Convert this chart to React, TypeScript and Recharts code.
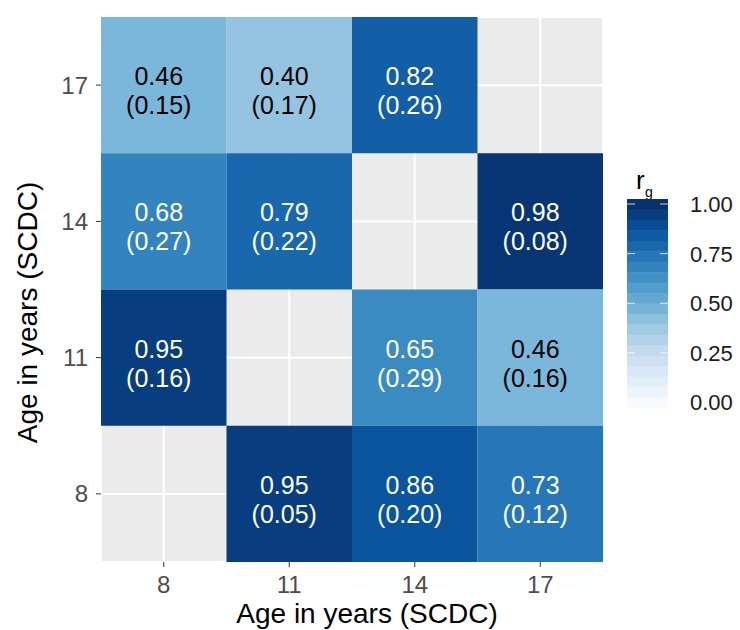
import { ScatterChart, Scatter, XAxis, YAxis, CartesianGrid } from "recharts";

// ages on both axes
const ages = [8, 11, 14, 17];

// one entry per filled tile (diagonal left empty)
const cellX = [8, 11, 14, 8, 11, 17, 8, 14, 17, 11, 14, 17];
const cellY = [17, 17, 17, 14, 14, 14, 11, 11, 11, 8, 8, 8];
const rg = [0.46, 0.4, 0.82, 0.68, 0.79, 0.98, 0.95, 0.65, 0.46, 0.95, 0.86, 0.73];
const se = [0.15, 0.17, 0.26, 0.27, 0.22, 0.08, 0.16, 0.29, 0.16, 0.05, 0.2, 0.12];

const legendTicks = [0, 0.25, 0.5, 0.75, 1];

const FONT = "Liberation Sans, Arial, sans-serif";
const W = 740;
const H = 630;
const M = { top: 17, right: 137, left: 0, bottom: 0 };
const Y_W = 101;
const X_H = 68;
const PLOT_W = W - M.left - M.right - Y_W;
const PLOT_H = H - M.top - M.bottom - X_H;
const TILE_W = PLOT_W / 4;
const TILE_H = PLOT_H / 4;

// brewer Blues
const blues = ["#f7fbff", "#deebf7", "#c6dbef", "#9ecae1", "#6baed6", "#4292c6", "#2171b5", "#08519c", "#08306b"];

function hex(c: string) {
  return [1, 3, 5].map((i) => parseInt(c.slice(i, i + 2), 16));
}

function blueFor(v: number) {
  const t = Math.max(0, Math.min(1, v)) * (blues.length - 1);
  const i = Math.min(Math.floor(t), blues.length - 2);
  const f = t - i;
  const a = hex(blues[i]);
  const b = hex(blues[i + 1]);
  const c = a.map((x, k) => Math.round(x + (b[k] - x) * f));
  return `rgb(${c[0]},${c[1]},${c[2]})`;
}

const data = cellX.map((x, i) => ({ x, y: cellY[i], rg: rg[i], se: se[i] }));

function Tile(props: any) {
  const { cx, cy, payload } = props;
  const txt = payload.rg < 0.5 ? "#000" : "#fff";
  return (
    <g>
      <rect x={cx - TILE_W / 2} y={cy - TILE_H / 2} width={TILE_W} height={TILE_H} fill={blueFor(payload.rg)} />
      <text x={cx - 5} y={cy} textAnchor="middle" fontSize={25} fontFamily={FONT} fill={txt}>
        {payload.rg.toFixed(2)}
      </text>
      <text x={cx - 5} y={cy + 29} textAnchor="middle" fontSize={25} fontFamily={FONT} fill={txt}>
        ({payload.se.toFixed(2)})
      </text>
    </g>
  );
}

function ColorBar() {
  const top = 199;
  const bottom = 408;
  const x0 = 627;
  const bw = 41;
  const nbin = 20;
  const y1 = 204;
  const y0 = 402.5;
  const toY = (v: number) => y0 - v * (y0 - y1);
  const binH = (bottom - top) / nbin;
  const bins = Array.from({ length: nbin }, (_, i) => {
    const yc = top + (i + 0.5) * binH;
    const v = (y0 - yc) / (y0 - y1);
    return { y: top + i * binH, fill: blueFor(v) };
  });
  return (
    <svg width={W} height={H} style={{ position: "absolute", left: 0, top: 0, pointerEvents: "none" }}>
      <text x={636} y={189} fontSize={26} fontFamily={FONT} fill="#000">
        r
      </text>
      <text x={645} y={197} fontSize={14} fontFamily={FONT} fill="#000">
        g
      </text>
      {bins.map((b, i) => (
        <rect key={i} x={x0} y={b.y} width={bw} height={binH + 0.5} fill={b.fill} />
      ))}
      {legendTicks.map((v) => (
        <g key={v}>
          <line x1={x0} x2={x0 + 8} y1={toY(v)} y2={toY(v)} stroke="#fff" strokeOpacity={0.8} strokeWidth={1} />
          <line x1={x0 + bw - 8} x2={x0 + bw} y1={toY(v)} y2={toY(v)} stroke="#fff" strokeOpacity={0.8} strokeWidth={1} />
          <text x={690} y={toY(v)} dy="0.36em" fontSize={22} fontFamily={FONT} fill="#1a1a1a">
            {v.toFixed(2)}
          </text>
        </g>
      ))}
    </svg>
  );
}

export default function App() {
  return (
    <div style={{ position: "absolute", left: 0, top: 0, width: W, height: H, background: "#fff" }}>
      <ScatterChart width={W} height={H} margin={M}>
        <CartesianGrid fill="#ebebeb" stroke="#fff" strokeWidth={2} />
        <XAxis
          type="number"
          dataKey="x"
          domain={[6.5, 18.5]}
          ticks={ages}
          interval={0}
          height={X_H}
          axisLine={false}
          tickSize={5}
          tickMargin={9}
          tickLine={{ stroke: "#333" }}
          tick={{ fill: "#4d4d4d", fontSize: 24, fontFamily: FONT }}
          label={{
            content: (p: any) => {
              const vb = p.viewBox || { x: Y_W, width: PLOT_W };
              return (
                <text x={vb.x + vb.width / 2 + 15} y={623} textAnchor="middle" fontSize={28} fontFamily={FONT} fill="#000">
                  Age in years (SCDC)
                </text>
              );
            },
          }}
        />
        <YAxis
          type="number"
          dataKey="y"
          domain={[6.5, 18.5]}
          ticks={ages}
          interval={0}
          width={Y_W}
          axisLine={false}
          tickSize={5}
          tickMargin={8}
          tickLine={{ stroke: "#333" }}
          tick={{ fill: "#4d4d4d", fontSize: 24, fontFamily: FONT }}
          label={{
            content: (p: any) => {
              const vb = p.viewBox || { y: M.top, height: PLOT_H };
              const cy = vb.y + vb.height / 2 + 23;
              return (
                <text
                  x={37}
                  y={cy}
                  transform={`rotate(-90 37 ${cy})`}
                  textAnchor="middle"
                  fontSize={28}
                  fontFamily={FONT}
                  fill="#000"
                >
                  Age in years (SCDC)
                </text>
              );
            },
          }}
        />
        <Scatter data={data} shape={Tile} isAnimationActive={false} />
      </ScatterChart>
      <ColorBar />
    </div>
  );
}
